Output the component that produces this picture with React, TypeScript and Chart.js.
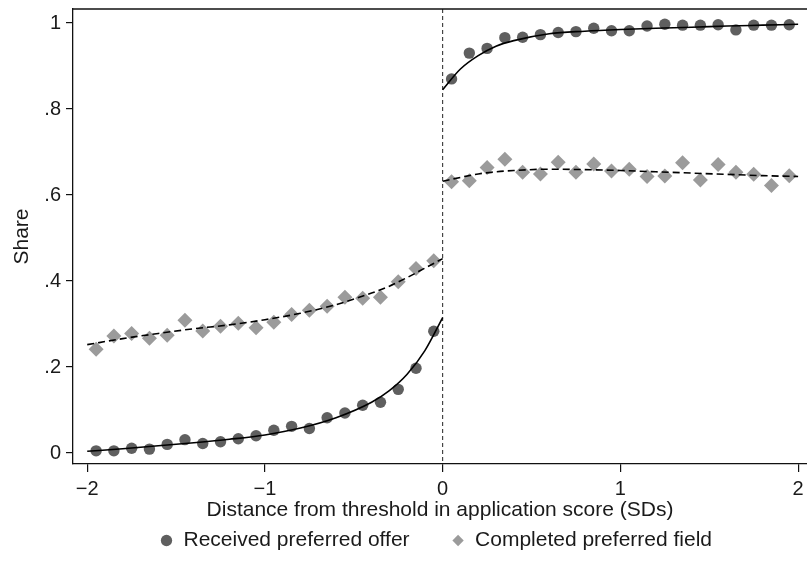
import { useEffect, useRef } from 'react';
import { Chart, registerables } from 'chart.js';

Chart.register(...registerables);

// Bin centres (distance from threshold, SDs)
const BINS_LEFT = [-1.95, -1.85, -1.75, -1.65, -1.55, -1.45, -1.35, -1.25, -1.15, -1.05, -0.95, -0.85, -0.75, -0.65, -0.55, -0.45, -0.35, -0.25, -0.15, -0.05];
const BINS_RIGHT = [0.05, 0.15, 0.25, 0.35, 0.45, 0.55, 0.65, 0.75, 0.85, 0.95, 1.05, 1.15, 1.25, 1.35, 1.45, 1.55, 1.65, 1.75, 1.85, 1.95];

// Received preferred offer (binned means)
const OFFER_LEFT = [0.005, 0.005, 0.011, 0.009, 0.02, 0.031, 0.022, 0.026, 0.033, 0.04, 0.053, 0.062, 0.057, 0.082, 0.093, 0.111, 0.118, 0.148, 0.197, 0.283];
const OFFER_RIGHT = [0.87, 0.93, 0.941, 0.966, 0.967, 0.973, 0.978, 0.98, 0.988, 0.982, 0.982, 0.993, 0.997, 0.995, 0.995, 0.996, 0.984, 0.995, 0.995, 0.996];

// Completed preferred field (binned means)
const FIELD_LEFT = [0.241, 0.272, 0.278, 0.267, 0.274, 0.309, 0.284, 0.295, 0.302, 0.291, 0.304, 0.322, 0.332, 0.341, 0.362, 0.36, 0.362, 0.398, 0.429, 0.447];
const FIELD_RIGHT = [0.631, 0.633, 0.664, 0.683, 0.653, 0.649, 0.676, 0.653, 0.672, 0.656, 0.66, 0.643, 0.644, 0.675, 0.635, 0.671, 0.653, 0.648, 0.622, 0.645];

// Fitted curves
const FIT_X_LEFT = [-2, -1.8, -1.6, -1.4, -1.2, -1.0, -0.8, -0.6, -0.4, -0.3, -0.2, -0.1, 0];
const FIT_OFFER_LEFT = [0.004, 0.01, 0.017, 0.024, 0.032, 0.042, 0.058, 0.082, 0.118, 0.145, 0.183, 0.238, 0.315];
const FIT_FIELD_LEFT = [0.252, 0.266, 0.278, 0.289, 0.298, 0.31, 0.325, 0.345, 0.372, 0.388, 0.408, 0.43, 0.452];
const FIT_X_RIGHT = [0, 0.1, 0.2, 0.3, 0.4, 0.6, 0.8, 1.0, 1.2, 1.4, 1.6, 1.8, 2.0];
const FIT_OFFER_RIGHT = [0.845, 0.893, 0.924, 0.946, 0.959, 0.975, 0.981, 0.985, 0.988, 0.99, 0.993, 0.995, 0.997];
const FIT_FIELD_RIGHT = [0.632, 0.641, 0.649, 0.654, 0.657, 0.66, 0.659, 0.657, 0.654, 0.651, 0.648, 0.645, 0.643];

const THRESHOLD = 0;
const X_TICKS = [-2, -1, 0, 1, 2];
const X_TICK_LABELS = ['\u22122', '\u22121', '0', '1', '2'];
const Y_TICKS = [0, 0.2, 0.4, 0.6, 0.8, 1];
const Y_TICK_LABELS = ['0', '.2', '.4', '.6', '.8', '1'];

const SERIES_NAMES = ['Received preferred offer', 'Completed preferred field'];
const X_TITLE = 'Distance from threshold in application score (SDs)';
const Y_TITLE = 'Share';

const pts = (xs: number[], ys: number[]) => xs.map((x, i) => ({ x, y: ys[i] }));

const FONT = 'Liberation Sans, Arial, Helvetica, sans-serif';
const TEXT = '#1a1a1a';
const DARK = '#5f5f5f';
const LIGHT = '#9b9b9b';
const LEGEND_LIFT = 16;

const framePlugin = {
  id: 'frame',
  afterLayout(chart: any) {
    const lg = chart.legend;
    if (lg) {
      lg.top -= LEGEND_LIFT;
      lg.bottom -= LEGEND_LIFT;
      lg.left -= 4;
      lg.right -= 4;
    }
  },
  beforeDatasetsDraw(chart: any) {
    const { ctx, chartArea, scales } = chart;
    const x = scales.x.getPixelForValue(THRESHOLD);
    ctx.save();
    ctx.strokeStyle = '#222';
    ctx.lineWidth = 1;
    ctx.setLineDash([4, 3]);
    ctx.beginPath();
    ctx.moveTo(x, chartArea.top);
    ctx.lineTo(x, chartArea.bottom);
    ctx.stroke();
    ctx.setLineDash([]);
    ctx.lineWidth = 1.3;
    ctx.strokeStyle = '#111';
    ctx.beginPath();
    ctx.moveTo(chartArea.left, chartArea.top);
    ctx.lineTo(chartArea.right, chartArea.top);
    ctx.stroke();
    ctx.restore();
  },
};

export default function App() {
  const ref = useRef<HTMLCanvasElement | null>(null);

  useEffect(() => {
    if (!ref.current) return;
    const lineBase = {
      showLine: true,
      pointRadius: 0,
      pointHoverRadius: 0,
      pointHitRadius: 0,
      borderColor: '#000',
      borderWidth: 1.6,
      cubicInterpolationMode: 'monotone' as const,
      order: 0,
      label: '',
    };
    const chart = new Chart(ref.current, {
      type: 'scatter',
      data: {
        datasets: [
          {
            label: SERIES_NAMES[0],
            data: pts(BINS_LEFT, OFFER_LEFT).concat(pts(BINS_RIGHT, OFFER_RIGHT)),
            pointStyle: 'circle',
            pointRadius: 5.7,
            backgroundColor: DARK,
            borderColor: DARK,
            borderWidth: 0,
            order: 1,
          },
          {
            label: SERIES_NAMES[1],
            data: pts(BINS_LEFT, FIELD_LEFT).concat(pts(BINS_RIGHT, FIELD_RIGHT)),
            pointStyle: 'rectRot',
            pointRadius: 7.5,
            backgroundColor: LIGHT,
            borderColor: LIGHT,
            borderWidth: 0,
            order: 1,
          },
          { ...lineBase, data: pts(FIT_X_LEFT, FIT_OFFER_LEFT) },
          { ...lineBase, data: pts(FIT_X_RIGHT, FIT_OFFER_RIGHT) },
          { ...lineBase, borderDash: [7, 4], data: pts(FIT_X_LEFT, FIT_FIELD_LEFT) },
          { ...lineBase, borderDash: [7, 4], data: pts(FIT_X_RIGHT, FIT_FIELD_RIGHT) },
        ] as any,
      },
      options: {
        animation: false,
        responsive: false,
        devicePixelRatio: 1,
        layout: { autoPadding: false, padding: { top: 9, right: 0, bottom: -9, left: 0 } },
        plugins: {
          tooltip: { enabled: false },
          legend: {
            position: 'bottom',
            fullSize: false,
            labels: {
              usePointStyle: true,
              boxWidth: 13,
              boxHeight: 8,
              padding: 42,
              color: TEXT,
              font: { family: FONT, size: 21 },
              filter: (item: any) => !!item.text,
            },
          },
        },
        scales: {
          x: {
            type: 'linear',
            min: -2.08,
            max: 2.05,
            afterBuildTicks: (s: any) => {
              s.ticks = X_TICKS.map((v) => ({ value: v }));
            },
            afterFit: (s: any) => {
              s.height = 40;
              s.paddingLeft = 0;
              s.paddingRight = 0;
            },
            ticks: {
              color: TEXT,
              font: { family: FONT, size: 20 },
              padding: 5,
              maxRotation: 0,
              callback: (v: any) => X_TICK_LABELS[X_TICKS.indexOf(Number(v))] ?? '',
            },
            grid: { display: true, drawOnChartArea: false, drawTicks: true, tickLength: 8, color: '#111', lineWidth: 1.2 },
            border: { display: true, color: '#111', width: 1.3 },
            title: {
              display: true,
              text: X_TITLE,
              color: TEXT,
              font: { family: FONT, size: 21 },
              padding: { top: 0, bottom: -18.6 },
            },
          },
          y: {
            type: 'linear',
            min: -0.0256,
            max: 1.0326,
            afterBuildTicks: (s: any) => {
              s.ticks = Y_TICKS.map((v) => ({ value: v }));
            },
            afterFit: (s: any) => {
              s.width = 73;
              s.paddingTop = 0;
              s.paddingBottom = 0;
            },
            ticks: {
              color: TEXT,
              font: { family: FONT, size: 20 },
              padding: 5,
              callback: (v: any) => Y_TICK_LABELS[Y_TICKS.findIndex((t) => Math.abs(t - Number(v)) < 1e-9)] ?? '',
            },
            grid: { display: true, drawOnChartArea: false, drawTicks: true, tickLength: 7, color: '#111', lineWidth: 1.2 },
            border: { display: true, color: '#111', width: 1.3 },
            title: {
              display: true,
              text: Y_TITLE,
              color: TEXT,
              font: { family: FONT, size: 21 },
              padding: { top: 10, bottom: 0 },
            },
          },
        },
      },
      plugins: [framePlugin],
    });
    return () => chart.destroy();
  }, []);

  return (
    <div style={{ position: 'fixed', left: 0, top: 0, width: 807, height: 568, background: '#fff' }}>
      <canvas ref={ref} width={807} height={568} style={{ display: 'block' }} />
    </div>
  );
}
